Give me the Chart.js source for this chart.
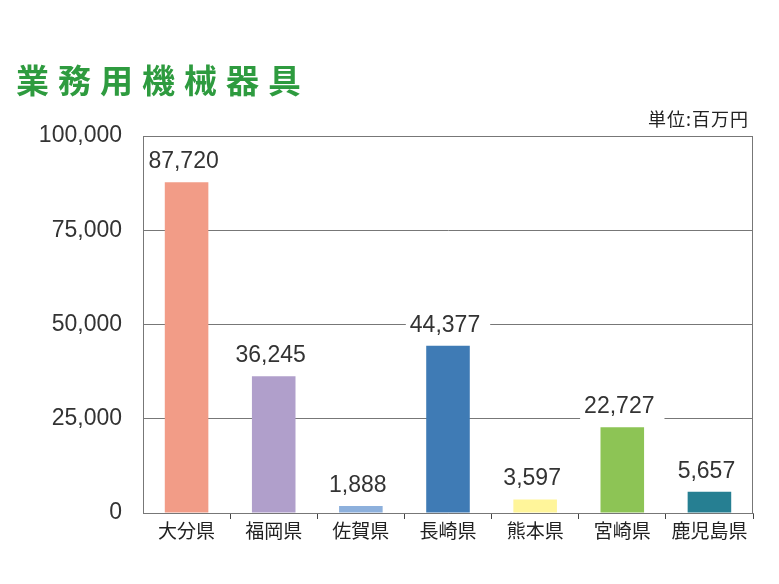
<!DOCTYPE html>
<html lang="ja">
<head>
<meta charset="UTF-8">
<title>業務用機械器具</title>
<script src="https://cdn.jsdelivr.net/npm/chart.js@4/dist/chart.umd.min.js"></script>
<style>
	body { margin: 0; background: #fff; }
	#wrap { position: relative; width: 779px; height: 584px; }
	#title {
		position: absolute; left: 16px; top: 63px;
		font: bold 33px "Noto Sans CJK JP", sans-serif; line-height: 1;
		letter-spacing: 9px; color: #2E9B3F;
	}
	#unit {
		position: absolute; right: 30px; top: 109px;
		font: 18px "Noto Sans CJK JP", sans-serif; line-height: 1; color: #222;
		letter-spacing: 1px;
	}
</style>
</head>
<body>
<div id="wrap">
	<canvas id="myChart" width="779" height="584"></canvas>
	<div id="title">業務用機械器具</div>
	<div id="unit">単位:百万円</div>
</div>

<script>
	const labels = ['大分県', '福岡県', '佐賀県', '長崎県', '熊本県', '宮崎県', '鹿児島県']
	const values = [87720, 36245, 1888, 44377, 3597, 22727, 5657]
	const barColors = ['#F29C87', '#B09FCB', '#8DB0DC', '#3F7BB5', '#FFF59A', '#8DC455', '#267F92']
	const yTicks = [0, 25000, 50000, 75000, 100000]

	const jpFont = '"Noto Sans CJK JP", sans-serif'
	const numFont = '"Liberation Sans", Arial, sans-serif'

	// white-backed value labels above each bar
	const valueLabels = {
		id: 'valueLabels',
		afterDatasetsDraw(chart) {
			const ctx = chart.ctx
			const meta = chart.getDatasetMeta(0)
			ctx.save()
			ctx.font = '23px ' + numFont
			ctx.textAlign = 'center'
			ctx.textBaseline = 'alphabetic'
			meta.data.forEach(function(bar, i) {
				const txt = values[i].toLocaleString('en-US')
				const w = ctx.measureText(txt).width
				const base = bar.y - 14
				ctx.fillStyle = '#fff'
				ctx.fillRect(bar.x - w / 2 - 7, base - 20, w + 14, 26)
				ctx.fillStyle = '#333'
				ctx.fillText(txt, bar.x - 3, base)
			})
			ctx.restore()
		}
	}

	// right and top edge of the plot box
	const frame = {
		id: 'frame',
		afterDraw(chart) {
			const a = chart.chartArea
			const ctx = chart.ctx
			ctx.save()
			ctx.strokeStyle = '#777'
			ctx.lineWidth = 1
			ctx.beginPath()
			ctx.moveTo(a.left, a.top + 0.5)
			ctx.lineTo(a.right - 0.5, a.top + 0.5)
			ctx.lineTo(a.right - 0.5, a.bottom)
			ctx.stroke()
			ctx.restore()
		}
	}

	new Chart(document.getElementById('myChart'), {
		type: 'bar',
		data: {
			labels: labels,
			datasets: [{
				data: values,
				backgroundColor: barColors,
				barPercentage: 0.5,
				categoryPercentage: 1
			}]
		},
		options: {
			responsive: false,
			animation: false,
			layout: { padding: { left: 0, top: 136, right: 26, bottom: 31 } },
			plugins: { legend: { display: false }, tooltip: { enabled: false } },
			scales: {
				x: {
					afterFit(scale) { scale.height = 40 },
					border: { color: '#777' },
					grid: {
						drawOnChartArea: false,
						tickLength: 6,
						color: function(c) { return (c.index === 0 || c.index === labels.length) ? 'transparent' : '#444' }
					},
					ticks: { color: '#222', font: { family: jpFont, size: 19 }, padding: 0 }
				},
				y: {
					min: 0,
					max: 100000,
					afterFit(scale) { scale.width = 143 },
					afterBuildTicks(scale) { scale.ticks = yTicks.map(function(v) { return { value: v } }) },
					border: { color: '#777' },
					grid: { color: '#777', drawTicks: false },
					ticks: {
						color: '#333',
						padding: 21,
						font: { family: numFont, size: 23 },
						callback: function(v) { return v.toLocaleString('en-US') }
					}
				}
			}
		},
		plugins: [valueLabels, frame]
	})
</script>
</body>
</html>
